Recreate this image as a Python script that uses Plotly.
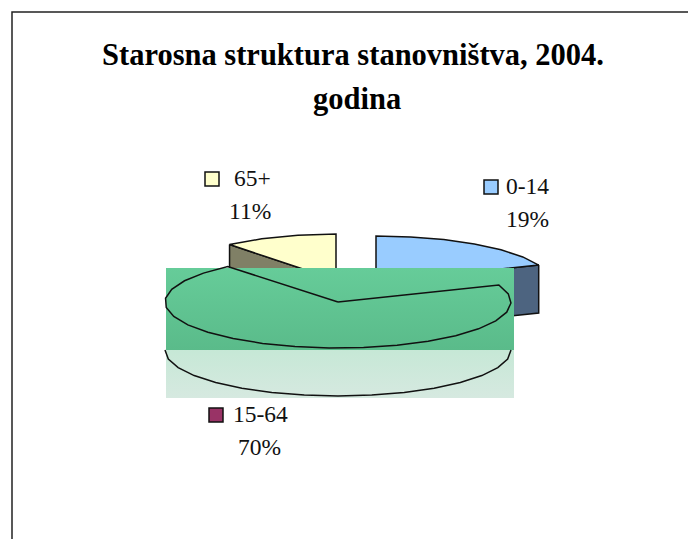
import numpy as np
import plotly.graph_objects as go

# Data
categories = ["0-14", "15-64", "65+"]
values = [19, 70, 11]
colors = ["#99CCFF", "#993366", "#FFFFCC"]
side_colors = ["#4D6480", "#4D1A33", "#808066"]

# Pie geometry (in the pixel-sized data space of the axes)
CX, CY, RY, DEPTH = 338, 302, 46, 48
radius_x = {"0-14": 175, "15-64": 173, "65+": 167}
offsets = {"0-14": (38, -20), "15-64": (0, 0), "65+": (-2, -22)}
STEP = 11  # degrees between arc vertices
LINE = "#111111"
LW = 1.5


def arc(start, end, rx=173, ox=0, oy=0, drop=0):
    n = max(2, int(abs(end - start) / STEP) + 1)
    t = np.radians(np.linspace(start, end, n))
    return CX + ox + rx * np.sin(t), CY + oy + drop - RY * np.cos(t)


def band(y0, y1, c_top, c_bottom):
    # plotly's vertical fillgradient runs from low to high y values;
    # this y axis is reversed, so the bottom colour comes first
    return go.Scatter(
        x=[166, 514, 514, 166, 166], y=[y0, y0, y1, y1, y0], mode="lines",
        line=dict(width=0), fill="toself",
        fillgradient=dict(type="vertical", colorscale=[[0, c_bottom], [1, c_top]]),
        hoverinfo="skip", showlegend=False,
    )


angles = np.cumsum([0] + values) / sum(values) * 360
spans = {c: (angles[i], angles[i + 1]) for i, c in enumerate(categories)}
fig = go.Figure()

# Exploded wedges: side face, then top face
for name, color, side in zip(categories, colors, side_colors):
    if name == "15-64":
        continue
    a0, a1 = spans[name]
    ox, oy = offsets[name]
    rx = radius_x[name]
    vx, vy = CX + ox, CY + oy
    edge = a1 if name == "0-14" else a0
    ex, ey = arc(edge, edge, rx, ox, oy)
    ex, ey = ex[0], ey[0]
    fig.add_trace(go.Scatter(
        x=[ex, vx, vx, ex, ex], y=[ey, vy, vy + DEPTH, ey + DEPTH, ey],
        mode="lines", line=dict(color=LINE, width=LW), fill="toself",
        fillcolor=side, hoverinfo="skip", showlegend=False))
    ax, ay = arc(a0, a1, rx, ox, oy)
    fig.add_trace(go.Scatter(
        x=np.r_[vx, ax, vx], y=np.r_[vy, ay, vy],
        mode="lines", line=dict(color=LINE, width=LW), fill="toself",
        fillcolor=color, hoverinfo="skip", showlegend=False))

# Washed-out plot panels that cover the large slice
fig.add_trace(band(350, 398, "#C6E8D6", "#D6E9E0"))
fig.add_trace(band(268, 350, "#66CC99", "#5ABB8A"))

# Large slice outline
a0, a1 = spans["15-64"]
ax, ay = arc(a0, a1, radius_x["15-64"])
fig.add_trace(go.Scatter(
    x=np.r_[CX, ax, CX], y=np.r_[CY, ay, CY], mode="lines",
    line=dict(color=LINE, width=LW), hoverinfo="skip", showlegend=False))
bx, by = arc(90, 270, radius_x["15-64"], drop=DEPTH)
clip = by >= 350
fig.add_trace(go.Scatter(
    x=bx[clip], y=by[clip], mode="lines",
    line=dict(color=LINE, width=LW), hoverinfo="skip", showlegend=False))

# Labels with colour keys
key_x = [491, 216, 212]
key_y = [187, 415, 179]
label_x = [527, 260, 252]
label_y = [186, 414, 178]
pct_x = [527, 259, 250]
pct_y = [219, 447, 211]
fig.add_trace(go.Scatter(
    x=key_x, y=key_y, mode="markers",
    marker=dict(symbol="square", size=14, color=colors, line=dict(color="#111111", width=1.5)),
    hoverinfo="skip", showlegend=False))
FONT = "Liberation Serif"
for i, name in enumerate(categories):
    fig.add_annotation(x=label_x[i], y=label_y[i], text=name, showarrow=False,
                       font=dict(family=FONT, size=23.5, color="#111111"))
    fig.add_annotation(x=pct_x[i], y=pct_y[i], text=f"{values[i]}%", showarrow=False,
                       font=dict(family=FONT, size=23.5, color="#111111"))

# Second title line (the source uses wider leading than a <br> gives)
fig.add_annotation(x=357, y=99, text="<b>godina</b>", showarrow=False,
                   font=dict(family=FONT, size=30.5, color="#000000"))

fig.update_layout(
    width=688, height=539, margin=dict(l=0, r=0, t=0, b=0),
    paper_bgcolor="white", plot_bgcolor="white", showlegend=False,
    title=dict(text="<b>Starosna struktura stanovništva, 2004.</b>",
               x=353 / 688, xanchor="center", y=1 - 54 / 539, yanchor="middle",
               font=dict(family=FONT, size=30.5, color="#000000")),
    xaxis=dict(range=[0, 688], visible=False, fixedrange=True),
    yaxis=dict(range=[539, 0], visible=False, fixedrange=True),
    shapes=[dict(type="rect", xref="x", yref="y", x0=12, y0=12, x1=720, y1=570,
                 line=dict(color="#222222", width=1.5), layer="below")],
)

fig.write_html("out.html", config={"displayModeBar": False},
               post_script="document.body.style.margin='0';")
